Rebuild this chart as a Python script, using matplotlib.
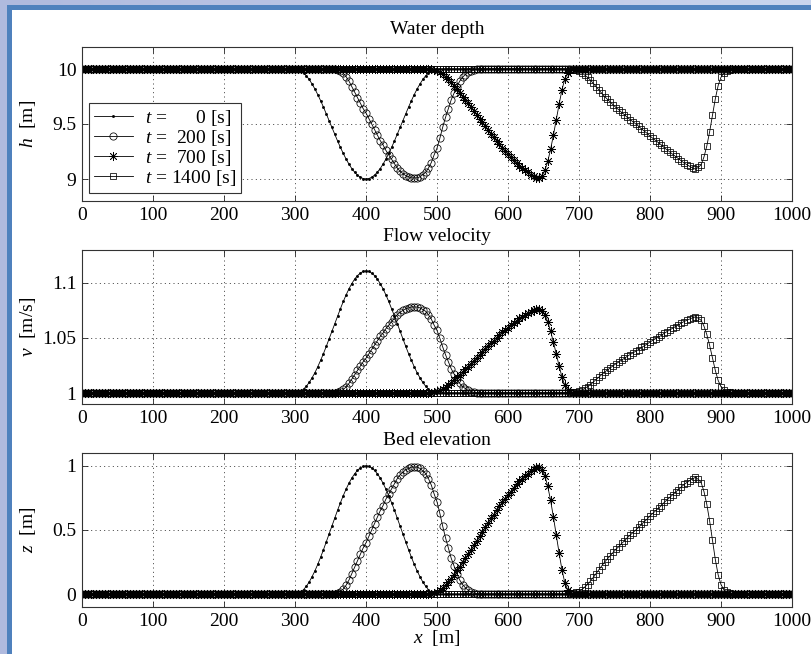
import numpy as np
import matplotlib
matplotlib.use("Agg")
import matplotlib.pyplot as plt
from matplotlib.ticker import FixedLocator, FixedFormatter

plt.rcParams['font.family'] = ['Liberation Serif', 'DejaVu Serif']
plt.rcParams['mathtext.fontset'] = 'custom'
plt.rcParams['mathtext.rm'] = 'Liberation Serif'
plt.rcParams['mathtext.it'] = 'Liberation Serif:italic'

# ---------------------------------------------------------------- data
dx = 4                       # grid spacing [m]
x = np.arange(0, 1001, dx)   # channel coordinate [m]

times = [0, 200, 700, 1400]  # output times [s]

# undisturbed state
depth_base = 10.0
velocity_base = 1.0
bed_base = 0.0

# t = 0 s : symmetric hump between x = 300 and 500 (half profile, mirrored)
t0_start = 300
bed_t0_half = [0, .004, .016, .035, .062, .095, .136, .181, .232, .287, .345, .406, .469,
               .531, .594, .655, .713, .768, .819, .865, .905, .938, .965, .984, .996, 1.0]
depth_t0_half = [10, 9.996, 9.984, 9.965, 9.938, 9.905, 9.864, 9.819, 9.768, 9.713, 9.655,
                 9.594, 9.531, 9.469, 9.406, 9.345, 9.287, 9.232, 9.181, 9.135, 9.095,
                 9.062, 9.035, 9.016, 9.004, 9.0]
velocity_t0_half = [1.0, 1.0004, 1.0016, 1.0035, 1.0062, 1.0096, 1.0138, 1.0184, 1.0238,
                    1.0296, 1.0357, 1.0423, 1.0492, 1.0561, 1.0631, 1.0701, 1.0767, 1.0832,
                    1.0892, 1.0947, 1.0995, 1.1035, 1.1068, 1.1089, 1.1106, 1.1111]
bed_t0 = bed_t0_half + bed_t0_half[-2::-1]
depth_t0 = depth_t0_half + depth_t0_half[-2::-1]
velocity_t0 = velocity_t0_half + velocity_t0_half[-2::-1]

# t = 200 s
t200_start = 352
bed_t200 = [0, .003, .01, .02, .04, .07, .11, .16, .21, .26, .31, .36, .40, .45, .50, .55,
            .60, .65, .69, .74, .78, .82, .86, .90, .93, .95, .97, .98, .99, .99, .99, .98,
            .96, .94, .90, .85, .78, .72, .63, .53, .44, .36, .28, .22, .16, .11, .075, .05,
            .03, .017, .008, .003, 0]
depth_t200 = [10, 9.997, 9.99, 9.98, 9.96, 9.93, 9.89, 9.84, 9.79, 9.74, 9.69, 9.64, 9.60,
              9.55, 9.50, 9.45, 9.40, 9.35, 9.31, 9.26, 9.22, 9.18, 9.14, 9.10, 9.07, 9.05,
              9.03, 9.02, 9.01, 9.01, 9.01, 9.02, 9.04, 9.06, 9.10, 9.15, 9.22, 9.28, 9.37,
              9.47, 9.56, 9.64, 9.72, 9.78, 9.84, 9.89, 9.925, 9.95, 9.97, 9.983, 9.992,
              9.997, 10]
velocity_t200 = [1.0, 1.0002, 1.0008, 1.0016, 1.0032, 1.0055, 1.0087, 1.0126, 1.0166,
                 1.0205, 1.0245, 1.0284, 1.0316, 1.0356, 1.0395, 1.0435, 1.0474, 1.0514,
                 1.0545, 1.0585, 1.0616, 1.0648, 1.0679, 1.0711, 1.0735, 1.0751, 1.0766,
                 1.0774, 1.0782, 1.0782, 1.0782, 1.0774, 1.0758, 1.0743, 1.0711, 1.0672,
                 1.0616, 1.0569, 1.0498, 1.0419, 1.0348, 1.0284, 1.0221, 1.0174, 1.0126,
                 1.0087, 1.0059, 1.0040, 1.0024, 1.0013, 1.0006, 1.0002, 1.0]

# t = 700 s
t700_start = 488
bed_t700 = [0, .003, .008, .018, .03, .048, .07, .095, .12, .15, .185, .215, .25, .28, .31,
            .345, .38, .415, .45, .485, .52, .555, .59, .62, .655, .685, .715, .745, .77,
            .80, .83, .855, .88, .90, .92, .94, .96, .975, .99, .99, .97, .92, .84, .73,
            .60, .46, .32, .19, .09, .035, .012, .004, 0]
depth_t700 = [10, 9.997, 9.992, 9.982, 9.97, 9.952, 9.93, 9.905, 9.88, 9.85, 9.815, 9.785,
              9.75, 9.72, 9.69, 9.655, 9.62, 9.585, 9.55, 9.515, 9.48, 9.445, 9.41, 9.38,
              9.345, 9.315, 9.285, 9.255, 9.23, 9.20, 9.17, 9.145, 9.12, 9.10, 9.08, 9.06,
              9.04, 9.025, 9.01, 9.01, 9.03, 9.08, 9.16, 9.27, 9.40, 9.54, 9.68, 9.81,
              9.91, 9.965, 9.988, 9.996, 10]
velocity_t700 = [1.0, 1.0002, 1.0006, 1.0014, 1.0023, 1.0037, 1.0054, 1.0073, 1.0092,
                 1.0116, 1.0142, 1.0166, 1.0193, 1.0216, 1.0239, 1.0266, 1.0293, 1.0320,
                 1.0347, 1.0373, 1.0400, 1.0427, 1.0454, 1.0477, 1.0504, 1.0527, 1.0551,
                 1.0574, 1.0593, 1.0616, 1.0639, 1.0658, 1.0678, 1.0693, 1.0708, 1.0724,
                 1.0739, 1.0751, 1.0762, 1.0762, 1.0747, 1.0708, 1.0647, 1.0562, 1.0462,
                 1.0354, 1.0246, 1.0146, 1.0069, 1.0027, 1.0009, 1.0003, 1.0]

# t = 1400 s
t1400_start = 676
bed_t1400 = [0, .002, .004, .006, .009, .013, .02, .035, .055, .075, .10, .13, .16, .19,
             .22, .25, .275, .30, .325, .35, .37, .395, .415, .44, .46, .48, .50, .52,
             .545, .565, .585, .61, .63, .65, .67, .69, .715, .735, .755, .775, .795, .815,
             .835, .855, .87, .885, .90, .91, .895, .87, .80, .70, .57, .42, .27, .15,
             .075, .035, .016, .007, .003, 0]
depth_t1400 = [10, 9.998, 9.996, 9.994, 9.991, 9.987, 9.98, 9.965, 9.945, 9.925, 9.90,
               9.87, 9.84, 9.81, 9.78, 9.75, 9.725, 9.70, 9.675, 9.65, 9.63, 9.605, 9.585,
               9.56, 9.54, 9.52, 9.50, 9.48, 9.455, 9.435, 9.415, 9.39, 9.37, 9.35, 9.33,
               9.31, 9.285, 9.265, 9.245, 9.225, 9.205, 9.185, 9.165, 9.145, 9.13, 9.115,
               9.10, 9.09, 9.105, 9.13, 9.20, 9.30, 9.43, 9.58, 9.73, 9.85, 9.925, 9.965,
               9.984, 9.993, 9.997, 10]
velocity_t1400 = [1.0, 1.0002, 1.0003, 1.0005, 1.0007, 1.001, 1.0015, 1.0027, 1.0042,
                  1.0057, 1.0076, 1.0099, 1.0122, 1.0144, 1.0167, 1.019, 1.0209, 1.0228,
                  1.0247, 1.0266, 1.0281, 1.03, 1.0315, 1.0334, 1.035, 1.0365, 1.038,
                  1.0395, 1.0414, 1.0429, 1.0445, 1.0464, 1.0479, 1.0494, 1.0509, 1.0524,
                  1.0543, 1.0559, 1.0574, 1.0589, 1.0604, 1.0619, 1.0635, 1.065, 1.0661,
                  1.0673, 1.0684, 1.0692, 1.068, 1.0661, 1.0608, 1.0532, 1.0433, 1.0319,
                  1.0205, 1.0114, 1.0057, 1.0027, 1.0012, 1.0005, 1.0002, 1.0]

starts = [t0_start, t200_start, t700_start, t1400_start]
depth_segments = [depth_t0, depth_t200, depth_t700, depth_t1400]
velocity_segments = [velocity_t0, velocity_t200, velocity_t700, velocity_t1400]
bed_segments = [bed_t0, bed_t200, bed_t700, bed_t1400]

panel_titles = ['Water depth', 'Flow velocity', 'Bed elevation']
y_labels = ['$h$  [m]', '$v$  [m/s]', '$z$  [m]']
y_limits = [(8.8, 10.2), (0.99, 1.13), (-0.1, 1.1)]
y_ticks = [[9, 9.5, 10], [1, 1.05, 1.1], [0, 0.5, 1]]
y_ticklabels = [['9', '9.5', '10'], ['1', '1.05', '1.1'], ['0', '0.5', '1']]
x_ticks = list(range(0, 1001, 100))
x_ticklabels = [str(v) for v in x_ticks]
legend_labels = ['$t$ =\u2007\u2007\u20070 [s]', '$t$ =\u2007200 [s]',
                 '$t$ =\u2007700 [s]', '$t$ = 1400 [s]']


def full_profile(base, start, values):
    arr = np.full(x.size, float(base))
    i0 = int(round(start / dx))
    arr[i0:i0 + len(values)] = values
    return arr


# ---------------------------------------------------------------- figure
W, H = 812, 654
fig = plt.figure(figsize=(W / 100, H / 100), dpi=100)
FS = 14

# window frame around the plot area
frame = np.ones((H, W, 3))
lav_left = np.array([176, 186, 222]) / 255
lav_right = np.array([202, 213, 238]) / 255
ramp = np.linspace(0, 1, W)[:, None]
frame[:5, :, :] = lav_left * (1 - ramp) + lav_right * ramp
frame[:, :7, :] = lav_left
edge_blue = np.array([79, 129, 189]) / 255
frame[5:10, 7:, :] = edge_blue
frame[5:, 7:12, :] = edge_blue
fig.figimage(frame, xo=0, yo=0, origin='upper', zorder=-10)

boxes = [(82, 47, 792, 201), (82, 250, 792, 404), (82, 453, 792, 607)]
title_pads = [9, 6.5, 6]

marker_styles = [
    dict(marker='.', markersize=3),
    dict(marker='o', markersize=5.2, markerfacecolor='none'),
    dict(marker=(8, 2, 0), markersize=6.5),
    dict(marker='s', markersize=5.0, markerfacecolor='none'),
]

bases = [depth_base, velocity_base, bed_base]
segments = [depth_segments, velocity_segments, bed_segments]

for k, (l, t, r, b) in enumerate(boxes):
    ax = fig.add_axes([l / W, 1 - b / H, (r - l) / W, (b - t) / H])
    handles = []
    for j in range(len(times)):
        y = full_profile(bases[k], starts[j], segments[k][j])
        ln, = ax.plot(x, y, color='black', linewidth=0.6,
                      markeredgecolor='black', markeredgewidth=0.55,
                      label=legend_labels[j], **marker_styles[j])
        handles.append(ln)

    ax.set_xlim(0, 1000)
    ax.set_ylim(*y_limits[k])
    ax.xaxis.set_major_locator(FixedLocator(x_ticks))
    ax.xaxis.set_major_formatter(FixedFormatter(x_ticklabels))
    ax.yaxis.set_major_locator(FixedLocator(y_ticks[k]))
    ax.yaxis.set_major_formatter(FixedFormatter(y_ticklabels[k]))
    ax.tick_params(direction='in', length=4, width=0.6, top=True, right=True,
                   labelsize=FS, pad=4, color='#222222')
    ax.grid(True, color='#222222', linewidth=0.6, linestyle=(0, (1.2, 4)))
    for sp in ax.spines.values():
        sp.set_color('#333333')
        sp.set_linewidth(0.8)
    ax.set_title(panel_titles[k], fontsize=FS, pad=title_pads[k])
    ax.set_ylabel(y_labels[k], fontsize=FS)
    ax.yaxis.set_label_coords(-0.062, 0.5)

    if k == 0:
        leg = ax.legend(handles=handles, loc='lower left',
                        bbox_to_anchor=(0.01, 0.052), borderaxespad=0,
                        fontsize=FS, frameon=True, fancybox=False,
                        edgecolor='#333333', framealpha=1, numpoints=1,
                        handlelength=2.0, handletextpad=0.6,
                        labelspacing=0.0, borderpad=0.25)
        leg.get_frame().set_linewidth(0.8)
    if k == 2:
        ax.set_xlabel('$x$  [m]', fontsize=FS, labelpad=-1)

fig.savefig('out.png', dpi=100)
